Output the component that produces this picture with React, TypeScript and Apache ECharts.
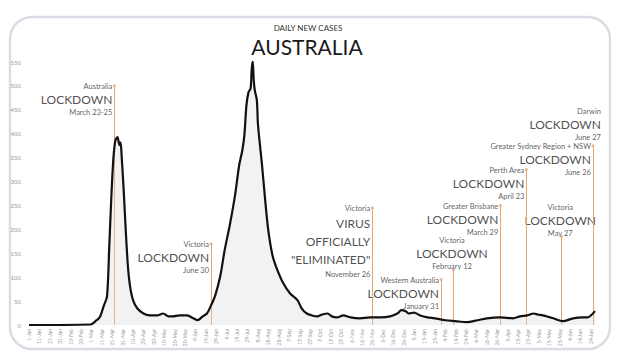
import React, { useEffect, useRef } from "react";
import * as echarts from "echarts";

const dates = [
  "2020-01-01", "2020-02-29", "2020-03-06", "2020-03-09", "2020-03-13", "2020-03-16", "2020-03-18", "2020-03-20",
  "2020-03-22", "2020-03-24", "2020-03-26", "2020-03-28", "2020-03-29", "2020-03-30", "2020-04-01", "2020-04-03",
  "2020-04-05", "2020-04-07", "2020-04-10", "2020-04-14", "2020-04-20", "2020-04-26", "2020-05-03", "2020-05-09",
  "2020-05-14", "2020-05-18", "2020-05-25", "2020-06-01", "2020-06-07", "2020-06-11", "2020-06-16", "2020-06-20",
  "2020-06-24", "2020-06-28", "2020-07-03", "2020-07-07", "2020-07-12", "2020-07-17", "2020-07-21", "2020-07-24",
  "2020-07-26", "2020-07-28", "2020-07-30", "2020-08-01", "2020-08-02", "2020-08-03", "2020-08-04", "2020-08-05",
  "2020-08-07", "2020-08-08", "2020-08-10", "2020-08-12", "2020-08-15", "2020-08-18", "2020-08-22", "2020-08-26",
  "2020-09-01", "2020-09-08", "2020-09-15", "2020-09-19", "2020-09-24", "2020-09-29", "2020-10-04", "2020-10-09",
  "2020-10-14", "2020-10-18", "2020-10-23", "2020-10-29", "2020-11-05", "2020-11-14", "2020-11-24", "2020-12-04",
  "2020-12-13", "2020-12-20", "2020-12-24", "2020-12-28", "2020-12-31", "2021-01-05", "2021-01-11", "2021-01-18",
  "2021-01-25", "2021-02-04", "2021-02-14", "2021-02-25", "2021-03-07", "2021-03-16", "2021-03-29", "2021-04-10",
  "2021-04-17", "2021-04-24", "2021-04-30", "2021-05-04", "2021-05-09", "2021-05-19", "2021-05-28", "2021-06-07",
  "2021-06-16", "2021-06-21", "2021-06-25", "2021-06-28",
];
const cases = [
  0, 1, 10, 16, 41, 60, 156, 261,
  345, 386, 393, 376, 382, 355, 282, 198,
  125, 83, 52, 35, 24, 20, 20, 24,
  18, 18, 20, 20, 14, 10, 18, 24,
  41, 62, 104, 156, 209, 271, 334, 365,
  397, 460, 487, 495, 533, 552, 512, 491,
  470, 422, 376, 334, 261, 198, 146, 119,
  89, 66, 52, 35, 24, 20, 18, 22,
  24, 18, 16, 20, 16, 14, 16, 16,
  18, 24, 31, 29, 24, 26, 20, 16,
  14, 10, 8, 6, 10, 14, 16, 14,
  18, 20, 24, 22, 20, 14, 8, 14,
  16, 16, 22, 29,
];

const eventDates = [
  "2020-03-23", "2020-06-24", "2020-11-26", "2021-01-31", "2021-02-12",
  "2021-03-29", "2021-04-23", "2021-05-27", "2021-06-26", "2021-06-27",
];
const eventHeights = [500, 170, 245, 95, 115, 250, 325, 185, 375, 443];
const eventPlaces = [
  "Australia", "Victoria", "Victoria", "Western Australia", "Victoria",
  "Greater Brisbane", "Perth Area", "Victoria", "Greater Sydney Region + NSW", "Darwin",
];
const eventHeadlines = [
  ["LOCKDOWN"], ["LOCKDOWN"], ["VIRUS", "OFFICIALLY", "\"ELIMINATED\""], ["LOCKDOWN"], ["LOCKDOWN"],
  ["LOCKDOWN"], ["LOCKDOWN"], ["LOCKDOWN"], ["LOCKDOWN"], ["LOCKDOWN"],
];
const eventLabels = [
  "March 23-25", "June 30", "November 26", "January 31", "February 12",
  "March 29", "April 23", "May 27", "June 26", "June 27",
];
const eventHasLine = [true, true, true, true, true, true, true, true, true, false];
const eventCentered = [false, false, false, false, true, false, false, true, false, false];

const yMin = 0;
const yMax = 550;
const yStep = 50;
const tickDays = 10;

const MONTHS = ["Jan", "Feb", "Mar", "Apr", "May", "Jun", "Jul", "Aug", "Sep", "Oct", "Nov", "Dec"];
const ORIGIN = Date.UTC(2020, 0, 1);
const DAY = 86400000;

function toDay(s: string): number {
  const [y, m, d] = s.split("-").map(Number);
  return Math.round((Date.UTC(y, m - 1, d) - ORIGIN) / DAY);
}
function dayLabel(v: number): string {
  const dt = new Date(ORIGIN + v * DAY);
  return `${dt.getUTCDate()}-${MONTHS[dt.getUTCMonth()]}`;
}

const FONT = "Lato, 'Open Sans', sans-serif";
const ORANGE = "#e9a56e";

export default function App() {
  const ref = useRef<HTMLDivElement>(null);
  useEffect(() => {
    document.body.style.margin = "0";
    if (!ref.current) return;
    const chart = echarts.init(ref.current, undefined, { renderer: "svg" });
    const lineData = dates.map((d, i) => [toDay(d), cases[i]]);
    const lastDay = toDay(dates[dates.length - 1]);

    const scatterData = eventDates.map((d, i) => {
      const big = eventHeadlines[i].length > 1 ? "v" : "b";
      const text = [
        `{s|${eventPlaces[i]}}`,
        ...eventHeadlines[i].map((h) => `{${big}|${h}}`),
        `{s|${eventLabels[i]}}`,
      ].join("\n");
      const centered = eventCentered[i];
      const isDarwin = !eventHasLine[i];
      return {
        value: [toDay(d), eventHeights[i]],
        symbolSize: isDarwin ? 0 : 3,
        label: {
          show: true,
          formatter: text,
          align: centered ? "center" : "right",
          verticalAlign: centered ? "bottom" : "top",
          position: centered ? [0, 4] : isDarwin ? [7, -8] : [-0.5, -3.5],
        },
      };
    });

    const markLines = eventDates
      .map((d, i) => ({ d, i }))
      .filter(({ i }) => eventHasLine[i])
      .map(({ d, i }) => [
        { coord: [toDay(d), 0], symbol: "none" },
        { coord: [toDay(d), eventHeights[i]], symbol: "none" },
      ]);

    chart.setOption({
      animation: false,
      backgroundColor: "#ffffff",
      textStyle: { fontFamily: FONT },
      grid: { left: 29, right: 27, top: 62, bottom: 29, containLabel: false },
      xAxis: {
        type: "value",
        min: 0,
        max: lastDay,
        interval: tickDays,
        axisLine: { show: false },
        axisTick: { show: false },
        splitLine: { show: false },
        axisLabel: {
          rotate: 90,
          fontSize: 5,
          color: "#9a9a9a",
          margin: 4,
          showMaxLabel: false,
          formatter: (v: number) => dayLabel(v),
        },
      },
      yAxis: {
        type: "value",
        min: yMin,
        max: yMax,
        interval: yStep,
        axisLine: { show: false },
        axisTick: { show: false },
        splitLine: { show: false },
        axisLabel: { fontSize: 6, color: "#9a9a9a", margin: 8 },
      },
      graphic: [
        {
          type: "rect",
          shape: { x: 10, y: 17, width: 600, height: 332, r: 22 },
          style: { fill: "none", stroke: "#d9dde3", lineWidth: 2.5 },
          z: -10,
        },
        {
          type: "text",
          x: 308,
          y: 28,
          style: { text: "DAILY NEW CASES", font: `8px ${FONT}`, fill: "#333", align: "center", verticalAlign: "middle" },
        },
        {
          type: "text",
          x: 307,
          y: 46,
          style: { text: "AUSTRALIA", font: `21px ${FONT}`, fill: "#1a1a1a", align: "center", verticalAlign: "middle" },
        },
      ],
      series: [
        {
          type: "scatter",
          data: scatterData,
          symbol: "circle",
          itemStyle: { color: ORANGE },
          z: 3,
          label: {
            color: "#2a2a2a",
            fontFamily: FONT,
            rich: {
              s: { fontSize: 7.5, lineHeight: 12, color: "#333", fontFamily: FONT },
              b: { fontSize: 12, lineHeight: 14, color: "#222", fontFamily: FONT },
              v: { fontSize: 12, lineHeight: 18, color: "#222", fontFamily: FONT },
            },
          },
          markLine: {
            silent: true,
            symbol: "none",
            label: { show: false },
            lineStyle: { type: "solid", color: ORANGE, width: 1 },
            data: markLines,
          },
        },
        {
          type: "line",
          data: lineData,
          showSymbol: false,
          smooth: 0.3,
          z: 5,
          lineStyle: { color: "#111", width: 2.2 },
          areaStyle: { color: "rgba(215,215,215,0.45)" },
        },
      ],
    });
    return () => chart.dispose();
  }, []);
  return <div ref={ref} style={{ width: 622, height: 354 }} />;
}
